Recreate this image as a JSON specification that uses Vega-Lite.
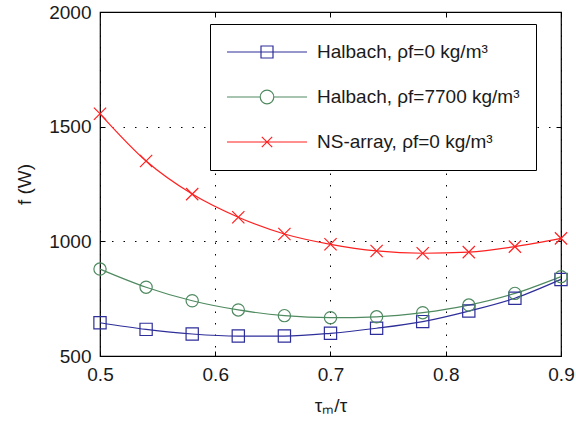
{
  "$schema": "https://vega.github.io/schema/vega-lite/v6.json",
  "autosize": {"type": "none"},
  "padding": {"left": 100, "top": 12, "right": 15, "bottom": 72},
  "width": 461,
  "height": 344,
  "background": "white",
  "config": {
    "view": {"stroke": "black", "strokeWidth": 1.2},
    "font": "Liberation Sans",
    "axis": {
      "labelFont": "Liberation Sans",
      "titleFont": "Liberation Sans",
      "labelFontSize": 19,
      "titleFontSize": 19,
      "titleFontWeight": "normal",
      "labelColor": "#1a1a1a",
      "titleColor": "#1a1a1a",
      "domainColor": "black",
      "tickColor": "black",
      "gridColor": "black",
      "gridDash": [1.5, 10],
      "gridOpacity": 1,
      "gridWidth": 1,
      "tickSize": -5,
      "labelFlush": false
    }
  },
  "data": {
    "values": [
      {"x": 0.50, "f": 645, "s": "Halbach, ρf=0 kg/m³"},
      {"x": 0.54, "f": 616, "s": "Halbach, ρf=0 kg/m³"},
      {"x": 0.58, "f": 596, "s": "Halbach, ρf=0 kg/m³"},
      {"x": 0.62, "f": 587, "s": "Halbach, ρf=0 kg/m³"},
      {"x": 0.66, "f": 587, "s": "Halbach, ρf=0 kg/m³"},
      {"x": 0.70, "f": 599, "s": "Halbach, ρf=0 kg/m³"},
      {"x": 0.74, "f": 621, "s": "Halbach, ρf=0 kg/m³"},
      {"x": 0.78, "f": 650, "s": "Halbach, ρf=0 kg/m³"},
      {"x": 0.82, "f": 696, "s": "Halbach, ρf=0 kg/m³"},
      {"x": 0.86, "f": 752, "s": "Halbach, ρf=0 kg/m³"},
      {"x": 0.90, "f": 834, "s": "Halbach, ρf=0 kg/m³"},
      {"x": 0.50, "f": 879, "s": "Halbach, ρf=7700 kg/m³"},
      {"x": 0.54, "f": 800, "s": "Halbach, ρf=7700 kg/m³"},
      {"x": 0.58, "f": 741, "s": "Halbach, ρf=7700 kg/m³"},
      {"x": 0.62, "f": 701, "s": "Halbach, ρf=7700 kg/m³"},
      {"x": 0.66, "f": 676, "s": "Halbach, ρf=7700 kg/m³"},
      {"x": 0.70, "f": 667, "s": "Halbach, ρf=7700 kg/m³"},
      {"x": 0.74, "f": 671, "s": "Halbach, ρf=7700 kg/m³"},
      {"x": 0.78, "f": 689, "s": "Halbach, ρf=7700 kg/m³"},
      {"x": 0.82, "f": 722, "s": "Halbach, ρf=7700 kg/m³"},
      {"x": 0.86, "f": 773, "s": "Halbach, ρf=7700 kg/m³"},
      {"x": 0.90, "f": 846, "s": "Halbach, ρf=7700 kg/m³"},
      {"x": 0.50, "f": 1556, "s": "NS-array, ρf=0 kg/m³"},
      {"x": 0.54, "f": 1350, "s": "NS-array, ρf=0 kg/m³"},
      {"x": 0.58, "f": 1206, "s": "NS-array, ρf=0 kg/m³"},
      {"x": 0.62, "f": 1105, "s": "NS-array, ρf=0 kg/m³"},
      {"x": 0.66, "f": 1032, "s": "NS-array, ρf=0 kg/m³"},
      {"x": 0.70, "f": 987, "s": "NS-array, ρf=0 kg/m³"},
      {"x": 0.74, "f": 958, "s": "NS-array, ρf=0 kg/m³"},
      {"x": 0.78, "f": 948, "s": "NS-array, ρf=0 kg/m³"},
      {"x": 0.82, "f": 953, "s": "NS-array, ρf=0 kg/m³"},
      {"x": 0.86, "f": 977, "s": "NS-array, ρf=0 kg/m³"},
      {"x": 0.90, "f": 1013, "s": "NS-array, ρf=0 kg/m³"}
    ]
  },
  "resolve": {
    "scale": {"shape": "independent", "color": "independent"},
    "legend": {"shape": "independent", "color": "independent"},
    "axis": {"x": "independent", "y": "independent"}
  },
  "layer": [
    {
      "mark": {"type": "line", "interpolate": "monotone", "strokeWidth": 1.2, "clip": false},
      "encoding": {
        "x": {
          "field": "x", "type": "quantitative",
          "scale": {"domain": [0.5, 0.9], "nice": false, "zero": false},
          "axis": {"values": [0.5, 0.6, 0.7, 0.8, 0.9], "format": ".1f", "title": "τₘ/τ", "grid": true, "domain": false, "labelPadding": 14, "titlePadding": 12}
        },
        "y": {
          "field": "f", "type": "quantitative",
          "scale": {"domain": [500, 2000], "nice": false, "zero": false},
          "axis": {"values": [500, 1000, 1500, 2000], "format": "d", "title": "f (W)", "grid": true, "domain": false, "labelPadding": 14, "titlePadding": 14}
        },
        "color": {
          "field": "s", "type": "nominal",
          "scale": {
            "domain": ["Halbach, ρf=0 kg/m³", "Halbach, ρf=7700 kg/m³", "NS-array, ρf=0 kg/m³"],
            "range": ["#2e2e9a", "#4f8a60", "#ff2020"]
          },
          "legend": null
        }
      }
    },
    {
      "mark": {"type": "point", "filled": false, "strokeWidth": 1.2, "size": 150, "opacity": 1, "clip": false},
      "encoding": {
        "x": {"field": "x", "type": "quantitative", "axis": null},
        "y": {"field": "f", "type": "quantitative", "axis": null},
        "color": {
          "field": "s", "type": "nominal",
          "scale": {
            "domain": ["Halbach, ρf=0 kg/m³", "Halbach, ρf=7700 kg/m³", "NS-array, ρf=0 kg/m³"],
            "range": ["#2e2e9a", "#4f8a60", "#ff2020"]
          },
          "legend": null
        },
        "shape": {
          "field": "s", "type": "nominal",
          "scale": {
            "domain": ["Halbach, ρf=0 kg/m³", "Halbach, ρf=7700 kg/m³", "NS-array, ρf=0 kg/m³"],
            "range": ["square", "circle", "M-1,-1L1,1M-1,1L1,-1"]
          },
          "legend": null
        }
      }
    },
    {
      "transform": [{"filter": "datum.x > 5"}],
      "mark": {"type": "point", "filled": false, "strokeWidth": 1.2, "size": 6400, "opacity": 1},
      "encoding": {
        "x": {
          "field": "x", "type": "quantitative",
          "axis": {"orient": "top", "values": [0.5, 0.6, 0.7, 0.8, 0.9], "labels": false, "title": null, "grid": false, "domain": false}
        },
        "y": {
          "field": "f", "type": "quantitative",
          "axis": {"orient": "right", "values": [500, 1000, 1500, 2000], "labels": false, "title": null, "grid": false, "domain": false}
        },
        "color": {
          "field": "s", "type": "nominal",
          "scale": {
            "domain": ["Halbach, ρf=0 kg/m³", "Halbach, ρf=7700 kg/m³", "NS-array, ρf=0 kg/m³"],
            "range": ["#2e2e9a", "#4f8a60", "#ff2020"]
          },
          "legend": {
            "title": null,
            "orient": "none",
            "legendX": 110,
            "legendY": 12,
            "padding": 16,
            "strokeColor": "black",
            "fillColor": "white",
            "labelFont": "Liberation Sans",
            "labelFontSize": 19,
            "labelColor": "#1a1a1a",
            "labelLimit": 400,
            "symbolSize": 6400,
            "clipHeight": 24,
            "rowPadding": 21,
            "labelOffset": 9,
            "symbolStrokeWidth": 1.2
          }
        },
        "shape": {
          "field": "s", "type": "nominal",
          "scale": {
            "domain": ["Halbach, ρf=0 kg/m³", "Halbach, ρf=7700 kg/m³", "NS-array, ρf=0 kg/m³"],
            "range": [
              "M-1,0H1M-0.15,-0.15H0.15V0.15H-0.15Z",
              "M-1,0H-0.17M0.17,0H1M-0.17,0A0.17,0.17 0 1,0 0.17,0A0.17,0.17 0 1,0 -0.17,0",
              "M-1,0H1M-0.13,-0.13L0.13,0.13M-0.13,0.13L0.13,-0.13"
            ]
          },
          "legend": {
            "title": null,
            "orient": "none",
            "legendX": 110,
            "legendY": 12,
            "padding": 16,
            "strokeColor": "black",
            "fillColor": "white",
            "labelFont": "Liberation Sans",
            "labelFontSize": 19,
            "labelColor": "#1a1a1a",
            "labelLimit": 400,
            "symbolSize": 6400,
            "clipHeight": 24,
            "rowPadding": 21,
            "labelOffset": 9,
            "symbolStrokeWidth": 1.2
          }
        }
      }
    }
  ]
}
